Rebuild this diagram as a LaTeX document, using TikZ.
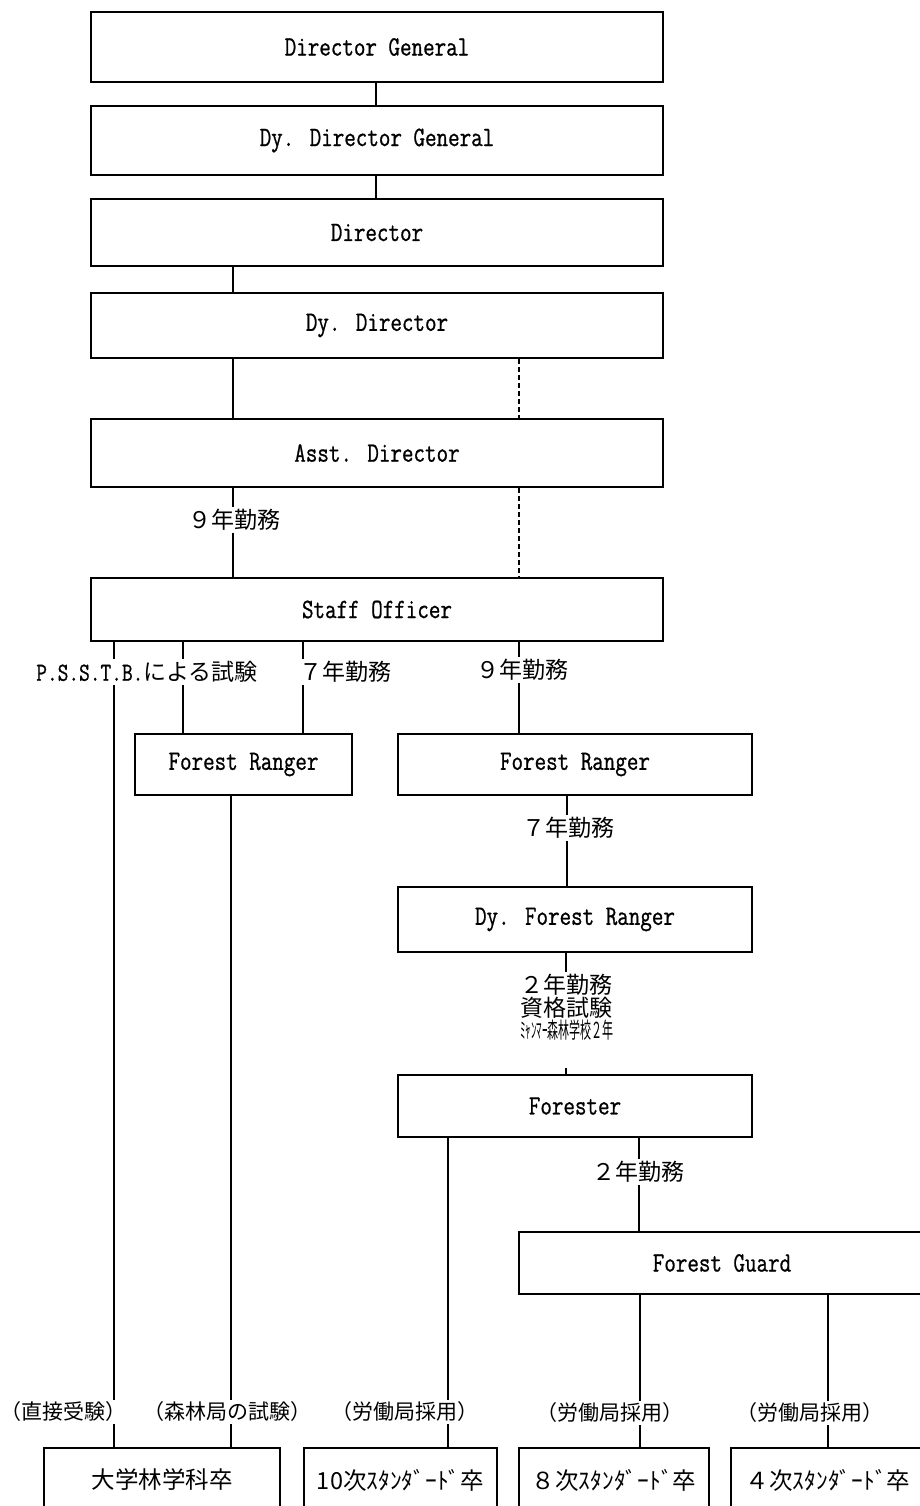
\documentclass[tikz,border=0pt]{standalone}
\usepackage{fontspec}
\usetikzlibrary{positioning}
\newfontfamily\boxfont{Latin Modern Mono}[FakeStretch=0.8,FakeBold=0.8]
\newfontfamily\jpfont{Noto Sans CJK JP}
\newfontfamily\jpnarrow{Noto Sans CJK JP}[FakeStretch=0.5]

\begin{document}
\begin{tikzpicture}[
  x=0.5pt, y=-0.5pt,
  post/.style={
    draw,
    line width=1pt,
    inner sep=0pt,
    minimum height=32pt,
    font=\boxfont\fontsize{14}{16}\selectfont
  },
  school/.style={
    draw,
    line width=1pt,
    inner sep=0pt,
    minimum height=32pt,
    font=\jpfont\fontsize{11.75}{13}\selectfont
  },
  link/.style={line width=1pt},
  maybe/.style={line width=1pt, dash pattern=on 2.5pt off 1.5pt},
  lab/.style={fill=white, inner sep=1pt, font=\jpfont\fontsize{11.5}{12}\selectfont},
  entry/.style={fill=white, inner sep=1pt, font=\jpfont\fontsize{10.5}{12}\selectfont}
]
  \useasboundingbox (0,0) rectangle (920,1506);

  \node[post, minimum width=286pt, minimum height=35pt] (DG) at (377,47) {Director General};
  \node[post, minimum width=286pt, minimum height=34.5pt] (DDG) at (377,140.5) {Dy. Director General};
  \node[post, minimum width=286pt, minimum height=33.5pt] (Dir) at (377,232.5) {Director};
  \node[post, minimum width=286pt, minimum height=32.5pt] (DDir) at (377,325.5) {Dy. Director};
  \node[post, minimum width=286pt, minimum height=34pt] (AD) at (377,453) {Asst. Director};
  \node[post, minimum width=286pt, minimum height=31.5pt] (SO) at (377,609.5) {Staff Officer};
  \node[post, minimum width=108.5pt, minimum height=30.5pt] (FRa) at (243.5,764.5) {Forest Ranger};
  \node[post, minimum width=177pt, minimum height=30.5pt] (FRb) at (575,764.5) {Forest Ranger};
  \node[post, minimum width=177pt, minimum height=32.5pt] (DFR) at (575,919.5) {Dy. Forest Ranger};
  \node[post, minimum width=177pt, minimum height=31pt] (Fo) at (575,1106) {Forester};
  \node[post, minimum width=203pt, minimum height=31pt] (FG) at (722,1263) {Forest Guard};

  \node[school, minimum width=118pt] (Uni) at (162,1480) {大学林学科卒};
  \node[school, minimum width=96.5pt] (Std10) at (400.5,1480) {10次ｽﾀﾝﾀﾞｰﾄﾞ卒};
  \node[school, minimum width=95pt] (Std8) at (614,1480) {８次ｽﾀﾝﾀﾞｰﾄﾞ卒};
  \node[school, minimum width=97pt] (Std4) at (828,1480) {４次ｽﾀﾝﾀﾞｰﾄﾞ卒};

  \draw[link] (DG.south -| 376,0) -- (DDG.north -| 376,0);
  \draw[link] (DDG.south -| 376,0) -- (Dir.north -| 376,0);
  \draw[link] (Dir.south -| 233,0) -- (DDir.north -| 233,0);
  \draw[link] (DDir.south -| 233,0) -- (AD.north -| 233,0);
  \draw[maybe] (DDir.south -| 519,0) -- (AD.north -| 519,0);
  \draw[link] (AD.south -| 233,0) -- (SO.north -| 233,0);
  \draw[maybe] (AD.south -| 519,0) -- (SO.north -| 519,0);
  \draw[link] (SO.south -| 114,0) -- (Uni.north -| 114,0);
  \draw[link] (SO.south -| 183,0) -- (FRa.north -| 183,0);
  \draw[link] (SO.south -| 303,0) -- (FRa.north -| 303,0);
  \draw[link] (SO.south -| 519,0) -- (FRb.north -| 519,0);
  \draw[link] (FRa.south -| 231,0) -- (Uni.north -| 231,0);
  \draw[link] (FRb.south -| 567,0) -- (DFR.north -| 567,0);
  \draw[link] (Fo.south -| 448,0) -- (Std10.north -| 448,0);
  \draw[link] (Fo.south -| 639,0) -- (FG.north -| 639,0);
  \draw[link] (FG.south -| 640,0) -- (Std8.north -| 640,0);
  \draw[link] (FG.south -| 828,0) -- (Std4.north -| 828,0);

  \node[lab] (yrA) at (234,520) {９年勤務};
  \node[lab] (exam) at (147,672) {{\boxfont\fontsize{13}{14}\selectfont P.S.S.T.B.}による試験};
  \node[lab] (yrB) at (345,672) {７年勤務};
  \node[lab] (yrC) at (522,670) {９年勤務};
  \node[lab] (yrD) at (568,828) {７年勤務};
  \node[lab, align=left, anchor=north west, font=\jpfont\fontsize{11.5}{11.25}\selectfont]
    (qual) at (518,972) {２年勤務\\資格試験\\{\jpnarrow\fontsize{11}{11}\selectfont ﾐｬﾝﾏｰ森林学校２年}};
  \coordinate (stub) at (566,1068);
  \draw[link] (DFR.south -| 566,0) -- (qual.north -| 566,0);
  \draw[link] (stub) -- (Fo.north -| stub);
  \node[lab] (yrE) at (638,1172) {２年勤務};

  \node[entry] (inA) at (64,1412) {（直接受験）};
  \node[entry] (inB) at (227,1412) {（森林局の試験）};
  \node[entry] (inC) at (405,1412) {（労働局採用）};
  \node[entry] (inD) at (610,1413) {（労働局採用）};
  \node[entry] (inE) at (810,1413) {（労働局採用）};
\end{tikzpicture}
\end{document}
